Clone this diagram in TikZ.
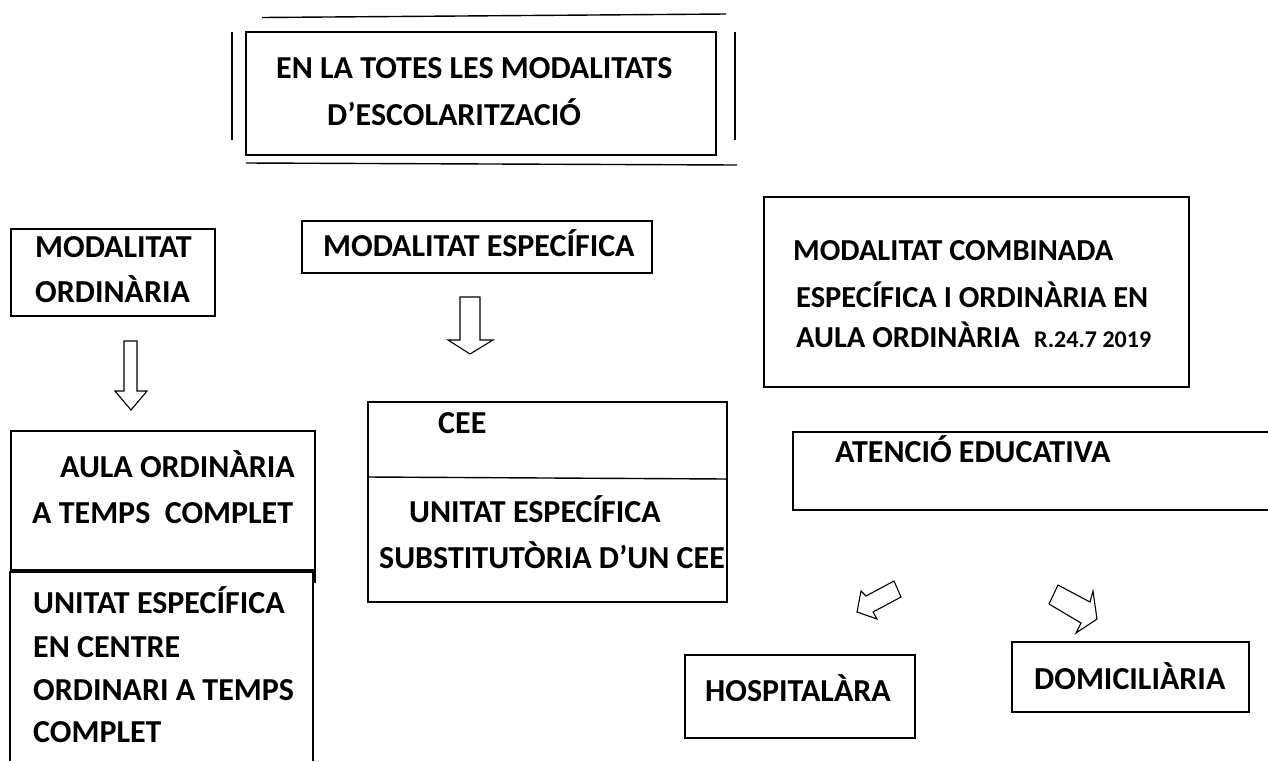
\documentclass[tikz,border=0pt]{standalone}
\usepackage{fontspec}
\setmainfont{Carlito}
\begin{document}
\begin{tikzpicture}[x=1pt,y=-1pt,
  lbl/.style={anchor=base west, inner sep=0pt, font=\bfseries\fontsize{32}{38}\selectfont},
  midlbl/.style={anchor=base west, inner sep=0pt, font=\bfseries\fontsize{30.5}{36}\selectfont},
  smalllbl/.style={anchor=base west, inner sep=0pt, font=\bfseries\fontsize{24}{28}\selectfont},
  frame/.style={draw, line width=1.4pt, inner sep=0pt, outer sep=0pt, anchor=north west},
  edge/.style={line width=1.4pt},
  blockarrow/.style={draw, line width=1.1pt, fill=white, line join=miter}]
\useasboundingbox (0,0) rectangle (1268,761);

% title box with decorative lines
\node[frame, minimum width=470, minimum height=123] (top) at (246,32) {};
\draw[edge] (262,17.5) -- (726,14);
\draw[edge] (232,32) -- (232,140);
\draw[edge] (735,32) -- (735,140);
\draw[edge] (246,163) -- (737,165);
\node[lbl] (t1) at (276,78) {EN LA TOTES LES MODALITATS};
\node[lbl] (t2) at (327,125) {D’ESCOLARITZACIÓ};

% modalitat ordinaria
\node[frame, minimum width=204, minimum height=87] (mo) at (11,229) {};
\node[lbl] (mo1) at (35,257) {MODALITAT};
\node[lbl] (mo2) at (35,302) {ORDINÀRIA};

% modalitat especifica
\node[frame, minimum width=350, minimum height=52] (me) at (302,221) {};
\node[lbl] (me1) at (323,256) {MODALITAT ESPECÍFICA};

% modalitat combinada
\node[frame, minimum width=425, minimum height=190] (mc) at (764,197) {};
\node[midlbl] (mc1) at (793,260) {MODALITAT COMBINADA};
\node[midlbl] (mc2) at (796,307) {ESPECÍFICA I ORDINÀRIA EN};
\node[midlbl] (mc3) at (796,347) {AULA ORDINÀRIA};
\node[smalllbl] (mc4) at (1034,347) {R.24.7 2019};

% down arrows
\draw[blockarrow] (124,341) -- (137,341) -- (137,391) -- (147,391) -- (131,410) -- (115,391) -- (124,391) -- cycle;
\draw[blockarrow] (460,297) -- (480,297) -- (480,340) -- (493,340) -- (470,354) -- (448,340) -- (460,340) -- cycle;

% aula ordinaria
\node[frame, minimum width=304, minimum height=139] (ao) at (11,431) {};
\draw[edge] (315,570) -- (315,583);
\node[lbl] (ao1) at (60,477) {AULA ORDINÀRIA};
\node[lbl] (ao2) at (32,523) {A TEMPS\ \ COMPLET};

% unitat especifica (open at the bottom)
\draw[edge] (10,761) -- (10,572) -- (313,572) -- (313,761);
\node[lbl] (ue1) at (33,613) {UNITAT ESPECÍFICA};
\node[lbl] (ue2) at (33,657) {EN CENTRE};
\node[lbl] (ue3) at (33,700) {ORDINARI A TEMPS};
\node[lbl] (ue4) at (33,742) {COMPLET};

% CEE
\node[frame, minimum width=359, minimum height=200] (cee) at (368,402) {};
\draw[edge] (368,477) -- (727,479);
\node[lbl] (cee1) at (438,433) {CEE};
\node[lbl] (cee2) at (409,522) {UNITAT ESPECÍFICA};
\node[lbl] (cee3) at (379,568) {SUBSTITUTÒRIA D’UN CEE};

% atencio educativa (open at the right)
\draw[edge] (1268,432) -- (793,432) -- (793,510) -- (1268,510);
\node[lbl] (ae1) at (835,462) {ATENCIÓ EDUCATIVA};

% diagonal arrows
\draw[blockarrow] (894,581) -- (866,596) -- (861,591) -- (857,612) -- (877,619) -- (873,612) -- (901,597) -- cycle;
\draw[blockarrow] (1058,585) -- (1090,602) -- (1093,591) -- (1097,619) -- (1076,633) -- (1081,623) -- (1049,604) -- cycle;

% hospitalara / domiciliaria
\node[frame, minimum width=230, minimum height=83] (ho) at (685,655) {};
\node[lbl] (ho1) at (705,701) {HOSPITALÀRA};
\node[frame, minimum width=237, minimum height=70] (do) at (1012,642) {};
\node[lbl] (do1) at (1034,689) {DOMICILIÀRIA};
\end{tikzpicture}
\end{document}
